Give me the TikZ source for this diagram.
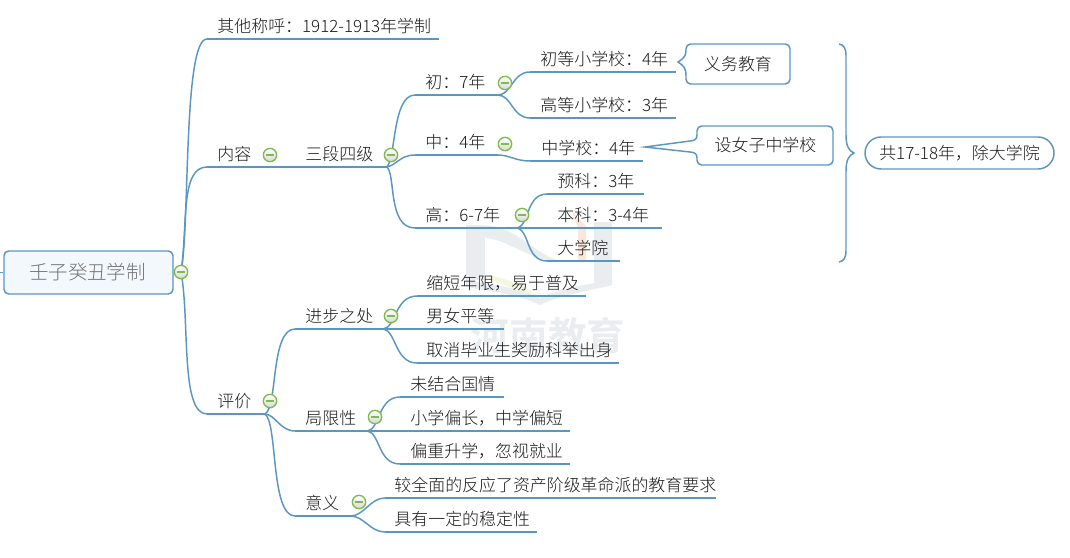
\documentclass[tikz,border=0pt]{standalone}
\usepackage{fontspec}
\IfFontExistsTF{Noto Sans CJK SC Light}{\setmainfont{Noto Sans CJK SC Light}}{\setmainfont{Noto Sans CJK SC}}
\IfFontExistsTF{Noto Sans CJK SC Bold}{\newfontfamily\wmfont{Noto Sans CJK SC Bold}}{\newfontfamily\wmfont{Noto Sans CJK SC}}
\definecolor{ln}{HTML}{5A96C2}
\definecolor{rootfill}{HTML}{F3F8FD}
\definecolor{tx}{HTML}{1A1A1A}
\definecolor{icg}{HTML}{7DBB4E}
\definecolor{wmk}{HTML}{E9EDF0}
\definecolor{wmr}{HTML}{FBE6DE}
\definecolor{wmy}{HTML}{F5F6E0}
\tikzset{
 tp/.style 2 args={anchor=south west,inner sep=0pt,minimum height=19.5pt,text width=\dimexpr#1pt*3/4\relax,align=left,text=tx,font=\fontsize{12.7pt}{14pt}\selectfont,execute at begin node=\hspace*{\dimexpr#2pt*3/4-0.6pt\relax}},
 conn/.style={draw=ln,line width=1.1pt},
 icn/.style={circle,draw=icg,line width=1pt,minimum size=10pt,inner sep=0pt,top color=white,bottom color=black!15,
   path picture={\draw[icg,line width=1pt] ([xshift=-3.2pt]path picture bounding box.center)--([xshift=3.2pt]path picture bounding box.center);}},
 lbl/.style={inner sep=0pt,text=tx,font=\fontsize{12.7pt}{14pt}\selectfont},
}
\newcommand\ul[1]{\draw[conn] (#1.south west)--(#1.south east);}
\begin{document}
\begin{tikzpicture}[x=0.75pt,y=-0.75pt]
\useasboundingbox (0,0) rectangle (1070,557);
% watermark
\fill[wmk] (466,225)--(485,225)--(485,280)--(466,280)--cycle;
\fill[wmk] (480,225) .. controls (520,225) and (530,255) .. (565,262) .. controls (530,262) and (510,240) .. (486,238) --cycle;
\fill[wmk] (594,222)--(612,222)--(612,285)--(594,285)--cycle;
\fill[wmk] (466,280) .. controls (500,285) and (525,290) .. (540,298) .. controls (560,288) and (585,285) .. (612,280) -- (612,285) .. controls (585,292) and (560,295) .. (540,305) .. controls (520,295) and (495,292) .. (466,287) --cycle;
\fill[wmr] (572,212)--(586,226)--(586,262)--(578,262)--(578,228)--cycle;
\fill[wmy] (490,275) .. controls (510,280) and (525,285) .. (535,295) .. controls (520,292) and (505,285) .. (490,280) --cycle;
\node[inner sep=0pt,text=wmk,font=\wmfont\fontsize{29pt}{32pt}\selectfont] (wm) at (548,336) {河南教育};
% topics
\node[tp={231}{11}] (qt) at (207,39) {其他称呼：1912-1913年学制};
\node[tp={88}{11}] (nr) at (207,167) {内容};
\node[tp={91}{11}] (sd) at (295,167) {三段四级};
\node[tp={82}{11}] (ch) at (415,95) {初：7年};
\node[tp={82}{11}] (zh) at (415,155) {中：4年};
\node[tp={100}{11}] (ga) at (415,228) {高：6-7年};
\node[tp={145}{11}] (c1) at (530,72) {初等小学校：4年};
\node[tp={145}{11}] (c2) at (530,118) {高等小学校：3年};
\node[tp={112}{12}] (z1) at (530,161) {中学校：4年};
\node[tp={96}{11}] (g1) at (547,194) {预科：3年};
\node[tp={114}{11}] (g2) at (547,228) {本科：3-4年};
\node[tp={72}{11}] (g3) at (547,261) {大学院};
\node[tp={57}{11}] (pj) at (207,414) {评价};
\node[tp={88}{11}] (jb) at (295,329) {进步之处};
\node[tp={72}{11}] (jx) at (295,431) {局限性};
\node[tp={55}{11}] (yy) at (295,516) {意义};
\node[tp={168}{10}] (j1) at (417,296) {缩短年限，易于普及};
\node[tp={86}{10}] (j2) at (417,329) {男女平等};
\node[tp={201}{10}] (j3) at (417,363) {取消毕业生奖励科举出身};
\node[tp={103}{11}] (x1) at (400,397) {未结合国情};
\node[tp={169}{11}] (x2) at (400,431) {小学偏长，中学偏短};
\node[tp={169}{11}] (x3) at (400,464) {偏重升学，忽视就业};
\node[tp={330}{10}] (y1) at (385,498) {较全面的反应了资产阶级革命派的教育要求};
\node[tp={151}{10}] (y2) at (385,532) {具有一定的稳定性};
% root
\node[draw=ln,line width=1.1pt,rounded corners=3.5pt,fill=rootfill,minimum width=126.75pt,minimum height=32.25pt,inner sep=0pt,text=black!55,font=\fontsize{14.6pt}{16pt}\selectfont] (root) at (88.5,272.5) {\raisebox{-1.3pt}{\hspace*{-1.5pt}壬子癸丑学制}};
\coordinate (stub) at (0,272.5);
\draw[conn] (stub)--(root.west);
\coordinate (rt) at (181,272);
% underlines
\foreach \n in {qt,nr,sd,ch,zh,ga,c1,c2,z1,g1,g2,g3,pj,jb,jx,yy,j1,j2,j3,x1,x2,x3,y1,y2}{\ul{\n}}
% connectors
\draw[conn] (root.east)--(rt);
\draw[conn] (rt) .. controls (190,225) and (183,39) .. (qt.south west);
\draw[conn] (rt) .. controls (188,225) and (180,167) .. (nr.south west);
\draw[conn] (rt) .. controls (190,320) and (180,414) .. (pj.south west);
\draw[conn] (sd.south east) .. controls (396,160) and (392,95) .. (ch.south west);
\draw[conn] (sd.south east) .. controls (397,165) and (400,155) .. (zh.south west);
\draw[conn] (sd.south east) .. controls (396,172) and (387,228) .. (ga.south west);
\draw[conn] (ch.south east) .. controls (512,95) and (512,72) .. (c1.south west);
\draw[conn] (ch.south east) .. controls (512,95) and (512,118) .. (c2.south west);
\draw[conn] (zh.south east) .. controls (510,155) and (515,161) .. (z1.south west);
\draw[conn] (ga.south east) .. controls (530,228) and (525,194) .. (g1.south west);
\draw[conn] (ga.south east) -- (g2.south west);
\draw[conn] (ga.south east) .. controls (530,228) and (525,261) .. (g3.south west);
\draw[conn] (pj.south east) .. controls (278,410) and (270,329) .. (jb.south west);
\draw[conn] (pj.south east) .. controls (275,414) and (280,431) .. (jx.south west);
\draw[conn] (pj.south east) .. controls (278,420) and (270,516) .. (yy.south west);
\draw[conn] (jb.south east) .. controls (396,327) and (395,296) .. (j1.south west);
\draw[conn] (jb.south east) -- (j2.south west);
\draw[conn] (jb.south east) .. controls (396,331) and (395,363) .. (j3.south west);
\draw[conn] (jx.south east) .. controls (380,429) and (378,397) .. (x1.south west);
\draw[conn] (jx.south east) -- (x2.south west);
\draw[conn] (jx.south east) .. controls (380,433) and (378,464) .. (x3.south west);
\draw[conn] (yy.south east) .. controls (364,516) and (370,498) .. (y1.south west);
\draw[conn] (yy.south east) .. controls (364,516) and (370,532) .. (y2.south west);
% icons
\node[icn] (i0) at (181,272) {};
\node[icn] (i1) at (270,155) {};
\node[icn] (i2) at (391,155) {};
\node[icn] (i3) at (505,83) {};
\node[icn] (i4) at (505,144) {};
\node[icn] (i5) at (522,215) {};
\node[icn] (i6) at (391,316) {};
\node[icn] (i7) at (270,401) {};
\node[icn] (i8) at (375,417) {};
\node[icn] (i9) at (359,502) {};
% callouts
\node[lbl] (yw) at (738,64) {义务教育};
\draw[conn,rounded corners=3.5pt] (686,50)--(686,44)--(790,44)--(790,84)--(686,84)--(686,76);
\draw[conn] (686,76) .. controls (686,68) and (684,66) .. (678,62) .. controls (684,58) and (686,56) .. (686,50);
\node[lbl] (nz) at (765.5,145) {设女子中学校};
\draw[conn,rounded corners=3.5pt] (697,135)--(697,126)--(833,126)--(833,165)--(697,165)--(697,158);
\draw[conn] (697,158) .. controls (697,153) and (694,152.5) .. (690,152) -- (645,147) -- (690,141) .. controls (694,140.5) and (697,140) .. (697,135);
\node[draw=ln,line width=1.1pt,rounded corners=12pt,minimum width=141.75pt,minimum height=24pt,inner sep=0pt,text=tx,font=\fontsize{12.7pt}{14pt}\selectfont] (pill) at (959.5,153) {共17-18年，除大学院};
\coordinate (brt) at (839,44);
\coordinate (brm) at (854,153);
\coordinate (brb) at (839,262);
\draw[conn] (brt) .. controls (844,45) and (846,48) .. (846,56) -- (846,135) .. controls (846,146) and (849,151) .. (brm) .. controls (849,155) and (846,160) .. (846,171) -- (846,250) .. controls (846,258) and (844,261) .. (brb);
\end{tikzpicture}
\end{document}
